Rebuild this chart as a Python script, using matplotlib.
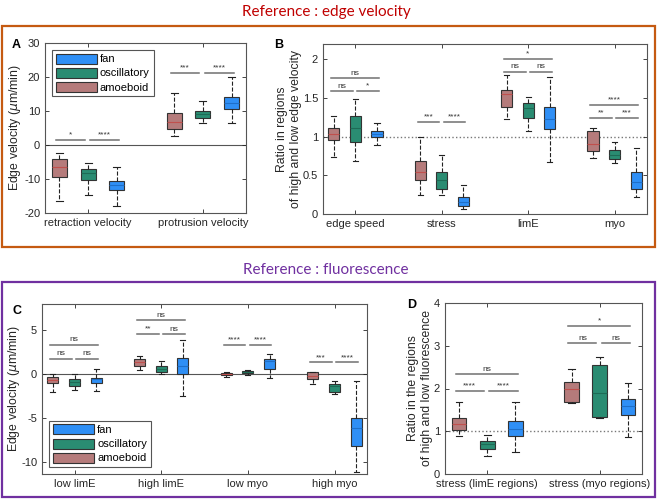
import numpy as np
import matplotlib.pyplot as plt
from matplotlib.patches import Patch, Rectangle

plt.rcParams['font.family'] = ['Liberation Sans', 'DejaVu Sans']
plt.rcParams['axes.linewidth'] = 0.8

# Classes (left to right in each group)
classes = ['amoeboid', 'oscillatory', 'fan']
face_colors = ['#b57b7b', '#2a8c72', '#2f8ff5']
median_colors = ['#c0504d', '#1e6b56', '#1f6fc8']

# Box summaries: [whisker low, q1, median, q3, whisker high] per group
A_groups = ['retraction velocity', 'protrusion velocity']
A_amoeboid = [[-16.4, -9.4, -6.4, -4.1, -2.3], [2.6, 4.7, 6.7, 9.3, 15.4]]
A_oscillatory = [[-14.7, -10.3, -8.1, -7.0, -5.2], [6.4, 8.0, 9.0, 10.0, 13.0]]
A_fan = [[-17.8, -13.3, -11.9, -10.5, -6.6], [6.4, 10.7, 12.4, 14.2, 19.9]]
A_sig = [(0, 0, 1, 1.5, '*'), (0, 1, 2, 1.5, '****'),
         (1, 0, 1, 21.1, '***'), (1, 1, 2, 21.1, '****')]

B_groups = ['edge speed', 'stress', 'limE', 'myo']
B_amoeboid = [[0.74, 0.96, 1.04, 1.11, 1.27], [0.24, 0.44, 0.54, 0.68, 1.0],
              [1.23, 1.38, 1.55, 1.60, 1.80], [0.72, 0.82, 0.905, 1.07, 1.11]]
B_oscillatory = [[0.69, 0.935, 1.11, 1.27, 1.49], [0.24, 0.32, 0.44, 0.55, 0.76],
                 [1.07, 1.24, 1.37, 1.44, 1.52], [0.66, 0.71, 0.77, 0.83, 0.93]]
B_fan = [[0.89, 1.0, 1.04, 1.07, 1.18], [0.07, 0.11, 0.16, 0.22, 0.37],
         [0.67, 1.10, 1.23, 1.38, 1.77], [0.22, 0.32, 0.42, 0.55, 0.85]]
B_sig = [(0, 0, 1, 1.59, 'ns'), (0, 1, 2, 1.59, '*'), (0, 0, 2, 1.76, 'ns'),
         (1, 0, 1, 1.19, '***'), (1, 1, 2, 1.19, '****'),
         (2, 0, 1, 1.84, 'ns'), (2, 1, 2, 1.84, 'ns'), (2, 0, 2, 2.01, '*'),
         (3, 0, 1, 1.24, '**'), (3, 1, 2, 1.24, '***'), (3, 0, 2, 1.41, '****')]

C_groups = ['low limE', 'high limE', 'low myo', 'high myo']
C_amoeboid = [[-2.0, -1.06, -0.68, -0.38, 0.0], [0.45, 0.95, 1.4, 1.67, 2.05],
              [-0.3, -0.08, 0.04, 0.15, 0.2], [-1.17, -0.6, -0.23, 0.2, 0.27]]
C_oscillatory = [[-1.82, -1.36, -0.87, -0.6, 0.0], [0.0, 0.19, 0.6, 0.95, 1.44],
                 [-0.1, 0.08, 0.23, 0.4, 0.45], [-2.31, -2.0, -1.36, -1.14, -0.76]]
C_fan = [[-1.89, -1.06, -0.6, -0.45, 0.57], [-2.5, 0.0, 0.95, 1.89, 3.94],
         [-0.42, 0.53, 1.48, 1.78, 2.35], [-11.2, -8.18, -6.17, -4.96, -0.76]]
C_sig = [(0, 0, 1, 1.78, 'ns'), (0, 1, 2, 1.78, 'ns'), (0, 0, 2, 3.37, 'ns'),
         (1, 0, 1, 4.55, '**'), (1, 1, 2, 4.55, 'ns'), (1, 0, 2, 6.14, 'ns'),
         (2, 0, 1, 3.3, '****'), (2, 1, 2, 3.3, '****'),
         (3, 0, 1, 1.33, '***'), (3, 1, 2, 1.33, '****')]

D_groups = ['stress (limE regions)', 'stress (myo regions)']
D_amoeboid = [[0.90, 1.03, 1.17, 1.30, 1.68], [1.66, 1.69, 1.99, 2.16, 2.45]]
D_oscillatory = [[0.43, 0.59, 0.70, 0.78, 0.91], [1.30, 1.33, 1.89, 2.54, 2.73]]
D_fan = [[0.52, 0.89, 1.05, 1.25, 1.69], [0.86, 1.38, 1.58, 1.76, 2.14]]
D_sig = [(0, 0, 1, 1.94, '****'), (0, 1, 2, 1.94, '****'), (0, 0, 2, 2.34, 'ns'),
         (1, 0, 1, 3.06, 'ns'), (1, 1, 2, 3.06, 'ns'), (1, 0, 2, 3.47, '*')]

W, H = 657, 499
fig = plt.figure(figsize=(W / 100, H / 100), dpi=100)


def px(l, t, r, b):
    return [l / W, 1 - b / H, (r - l) / W, (b - t) / H]


offsets = [-0.25, 0.0, 0.25]


def draw_panel(ax, groups, data, sig, ylim, yticks, yticklabels, ylabel, label_x):
    n = len(groups)
    for k, series in enumerate(data):
        stats = []
        for g in range(n):
            lo, q1, med, q3, hi = series[g]
            stats.append(dict(whislo=lo, q1=q1, med=med, q3=q3, whishi=hi, fliers=[]))
        pos = [g + 1 + offsets[k] for g in range(n)]
        ax.bxp(stats, positions=pos, widths=0.13, patch_artist=True,
               showfliers=False, capwidths=0.06,
               boxprops=dict(facecolor=face_colors[k], edgecolor='#333333', lw=0.8),
               whiskerprops=dict(color='#222222', ls='--', lw=0.8),
               capprops=dict(color='#222222', lw=0.8),
               medianprops=dict(color=median_colors[k], lw=0.8))
    for g, i, j, y, lab in sig:
        ci = g + 1 + offsets[i]
        cj = g + 1 + offsets[j]
        x0 = ci - 0.03 + (0.05 if i == 1 else 0)
        x1 = cj - 0.03 + (0.05 if j == 2 else 0)
        ax.plot([x0, x1], [y, y], color='#707070', lw=1.1)
        ax.annotate(lab, ((x0 + x1) / 2, y), xytext=(0, 1), textcoords='offset points',
                    ha='center', va='bottom', fontsize=6, color='#333333')
    ax.set_xlim(0.625, n + 0.375)
    ax.set_ylim(*ylim)
    ax.set_yticks(yticks)
    ax.set_yticklabels(yticklabels)
    ax.set_xticks(range(1, n + 1))
    ax.set_xticklabels(groups)
    ax.tick_params(direction='in', top=True, right=True, length=3, width=0.6,
                   labelsize=8, colors='#262626')
    for s in ax.spines.values():
        s.set_color('#555555')
    ax.set_ylabel(ylabel, fontsize=8.8, color='#262626', va='center', linespacing=1.25)
    ax.yaxis.set_label_coords(label_x, 0.5)


def add_legend(ax, loc):
    handles = [Patch(facecolor=face_colors[k], edgecolor='#333333', lw=0.8) for k in [2, 1, 0]]
    leg = ax.legend(handles, ['fan', 'oscillatory', 'amoeboid'], loc=loc, fontsize=8,
                    fancybox=False, framealpha=1, edgecolor='#555555',
                    handlelength=3.7, handleheight=1.0, handletextpad=0.3,
                    labelspacing=0.3, borderpad=0.35, borderaxespad=0.6)
    leg.get_frame().set_linewidth(0.8)


axA = fig.add_axes(px(45, 43, 246, 213))
draw_panel(axA, A_groups, [A_amoeboid, A_oscillatory, A_fan], A_sig, (-20, 30),
           [-20, -10, 0, 10, 20, 30], ['-20', '-10', '0', '10', '20', '30'],
           r'Edge velocity ($\mu$m/min)', -0.148)
axA.axhline(0, color='#555555', lw=0.8, zorder=0)
add_legend(axA, 'upper left')

axB = fig.add_axes(px(323, 44, 647, 214))
draw_panel(axB, B_groups, [B_amoeboid, B_oscillatory, B_fan], B_sig, (0, 2.2),
           [0, 0.5, 1, 1.5, 2], ['0', '0.5', '1', '1.5', '2'],
           'Ratio in regions\nof high and low edge velocity', -0.106)
axB.axhline(1, color='#777777', ls=':', lw=1, zorder=0)

axC = fig.add_axes(px(42, 304, 367, 474))
draw_panel(axC, C_groups, [C_amoeboid, C_oscillatory, C_fan], C_sig, (-11.4, 8),
           [-10, -5, 0, 5], ['-10', '-5', '0', '5'],
           r'Edge velocity ($\mu$m/min)', -0.085)
axC.axhline(0, color='#555555', lw=0.8, zorder=0)
add_legend(axC, 'lower left')

axD = fig.add_axes(px(445, 303, 642, 474))
draw_panel(axD, D_groups, [D_amoeboid, D_oscillatory, D_fan], D_sig, (0, 4),
           [0, 1, 2, 3, 4], ['0', '1', '2', '3', '4'],
           'Ratio in the regions\nof high and low fluorescence', -0.127)
axD.axhline(1, color='#777777', ls=':', lw=1, zorder=0)

# Panel letters
for letter, (x, y) in zip('ABCD', [(16, 45), (279, 45), (17, 311), (412, 305)]):
    fig.text(x / W, 1 - y / H, letter, fontsize=9, fontweight='bold',
             ha='center', va='center')

# Section frames and titles
fig.patches.append(Rectangle((2 / W, 1 - 247 / H), 653 / W, 221 / H, transform=fig.transFigure,
                             fill=False, edgecolor='#c55a11', lw=1.6))
fig.patches.append(Rectangle((2 / W, 1 - 497 / H), 653 / W, 215 / H, transform=fig.transFigure,
                             fill=False, edgecolor='#7030a0', lw=1.6))
fig.text(326 / W, 1 - 12 / H, 'Reference : edge velocity', color='#c00000', fontsize=11,
         family=['Lato', 'DejaVu Sans'], ha='center', va='center')
fig.text(326 / W, 1 - 270 / H, 'Reference : fluorescence', color='#7030a0', fontsize=11,
         family=['Lato', 'DejaVu Sans'], ha='center', va='center')

fig.savefig('out.png', dpi=100)
